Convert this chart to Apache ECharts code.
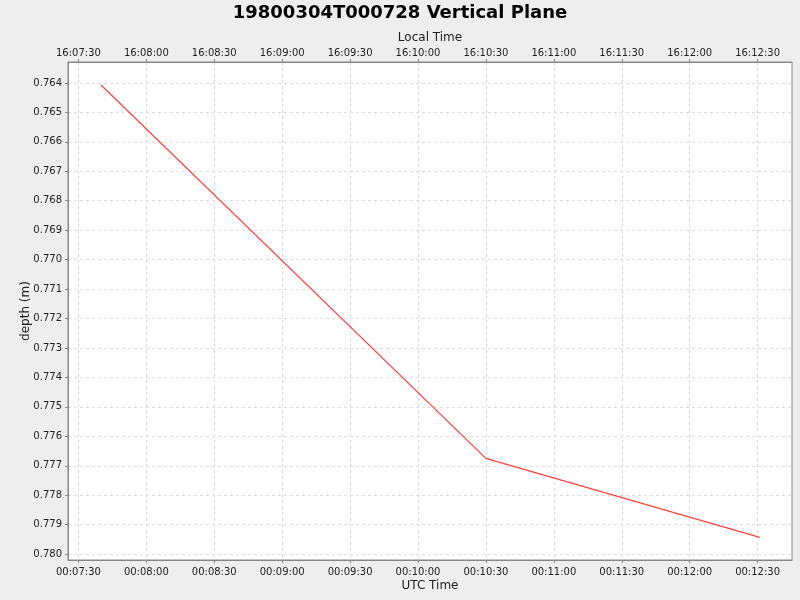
<!DOCTYPE html>
<html>
<head>
<meta charset="utf-8">
<script src="https://cdn.jsdelivr.net/npm/echarts@6/dist/echarts.min.js"></script>
<style>
  html, body { margin: 0; padding: 0; background: #eeeeee; }
  #chart { width: 800px; height: 600px; }
</style>
</head>
<body>
<div id="chart"></div>
<script>
// depth profile, time in seconds after 00:00:00 UTC
const timeSec = [460, 630, 751];
const depth = [0.76407, 0.77675, 0.77943];
const timeTicks = [450, 480, 510, 540, 570, 600, 630, 660, 690, 720, 750];
const depthTicks = [0.764, 0.765, 0.766, 0.767, 0.768, 0.769, 0.770, 0.771, 0.772,
  0.773, 0.774, 0.775, 0.776, 0.777, 0.778, 0.779, 0.780];
const localOffsetHours = 16;

function pad(n) { return (n < 10 ? '0' : '') + n; }
function fmtTime(sec, offH) {
  const s = Math.round(sec);
  const h = (Math.floor(s / 3600) + offH) % 24;
  return pad(h) + ':' + pad(Math.floor(s / 60) % 60) + ':' + pad(s % 60);
}

function renderChart() {
  const chart = echarts.init(document.getElementById('chart'));
  const font = 'DejaVu Sans';
  const xMin = 445.4, xMax = 765.2;
  const baseX = {
    type: 'value',
    min: xMin,
    max: xMax,
    nameLocation: 'middle',
    nameMoveOverlap: false,
    nameTextStyle: { fontFamily: font, fontSize: 12, color: '#222' },
    axisLine: { show: true, lineStyle: { color: '#888' } },
    axisTick: { show: true, length: 3, lineStyle: { color: '#888' }, customValues: timeTicks },
    splitLine: { show: true, lineStyle: { color: '#dddddd', type: [3, 3] }, customValues: timeTicks },
  };
  const option = {
    backgroundColor: '#eeeeee',
    animation: false,
    title: {
      text: '19800304T000728 Vertical Plane',
      left: 'center',
      top: -1,
      textStyle: { fontFamily: font, fontSize: 18, fontWeight: 'bold', color: '#000' }
    },
    grid: {
      left: 68, right: 8, top: 62, bottom: 40,
      show: true,
      backgroundColor: '#ffffff',
      borderColor: '#888',
      borderWidth: 1
    },
    xAxis: [
      Object.assign({}, baseX, {
        position: 'bottom',
        name: 'UTC Time',
        nameGap: 20,
        axisLabel: {
          fontFamily: font, fontSize: 10, color: '#222', margin: 7,
          customValues: timeTicks,
          formatter: function(v) { return fmtTime(v, 0); }
        }
      }),
      Object.assign({}, baseX, {
        position: 'top',
        name: 'Local Time',
        nameGap: 18,
        axisLabel: {
          fontFamily: font, fontSize: 10, color: '#222', margin: 4,
          customValues: timeTicks,
          formatter: function(v) { return fmtTime(v, localOffsetHours); }
        }
      })
    ],
    yAxis: {
      type: 'value',
      inverse: true,
      min: 0.76329,
      max: 0.7802,
      name: 'depth (m)',
      nameLocation: 'middle',
      nameMoveOverlap: false,
      nameGap: 36,
      nameTextStyle: { fontFamily: font, fontSize: 12, color: '#222' },
      axisLine: { show: true, lineStyle: { color: '#888' } },
      axisTick: { show: true, length: 3, lineStyle: { color: '#888' }, customValues: depthTicks },
      splitLine: { show: true, lineStyle: { color: '#dddddd', type: [3, 3] }, customValues: depthTicks },
      axisLabel: {
        fontFamily: font, fontSize: 10, color: '#222', margin: 6,
        customValues: depthTicks,
        formatter: function(v) { return v.toFixed(3); }
      }
    },
    series: [{
      type: 'line',
      xAxisIndex: 0,
      data: timeSec.map(function(t, i) { return [t, depth[i]]; }),
      showSymbol: false,
      lineStyle: { color: '#ff4040', width: 1.2 },
      itemStyle: { color: '#ff4040' }
    }]
  };
  chart.setOption(option, true);
}
renderChart();
</script>
</body>
</html>
